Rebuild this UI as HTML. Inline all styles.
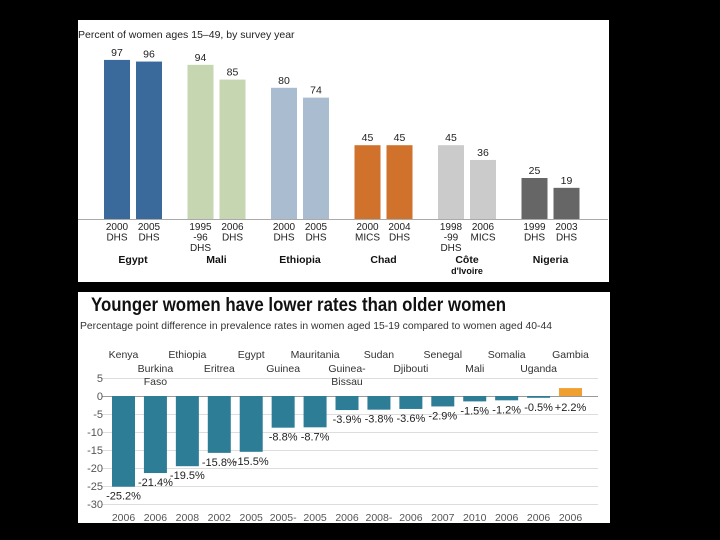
<!DOCTYPE html>
<html><head><meta charset="utf-8"><style>
html,body{margin:0;padding:0;background:#000;width:720px;height:540px;overflow:hidden}
svg{display:block;font-family:"Liberation Sans",sans-serif}
</style></head><body>
<svg id="svg" width="720" height="540">
<rect x="0" y="0" width="720" height="540" fill="#000"/>
<rect x="78" y="20" width="531" height="262" fill="#fff"/>
<rect x="78" y="292" width="532" height="231" fill="#fff"/>
<text x="78" y="38" font-size="10.5" fill="#222">Percent of women ages 15–49, by survey year</text>
<line x1="78" y1="219.5" x2="608" y2="219.5" stroke="#aaa" stroke-width="1"/>
<g id="top"></g>
<text x="91" y="311" font-size="19.5" font-weight="bold" fill="#111" textLength="415" lengthAdjust="spacingAndGlyphs">Younger women have lower rates than older women</text>
<text x="80" y="329" font-size="10.5" fill="#333" textLength="472" lengthAdjust="spacingAndGlyphs">Percentage point difference in prevalence rates in women aged 15-19 compared to women aged 40-44</text>
<g id="bot"></g>
</svg>
<script>
// top chart data
const topCountries = ["Egypt","Mali","Ethiopia","Chad","Côte","Nigeria"];
const topValues = [[97,96],[94,85],[80,74],[45,45],[45,36],[25,19]];
const topSurveys = [[["2000","DHS"],["2005","DHS"]],[["1995","-96","DHS"],["2006","DHS"]],[["2000","DHS"],["2005","DHS"]],[["2000","MICS"],["2004","DHS"]],[["1998","-99","DHS"],["2006","MICS"]],[["1999","DHS"],["2003","DHS"]]];
// bottom chart data
const botCountries = ["Kenya","Burkina Faso","Ethiopia","Eritrea","Egypt","Guinea","Mauritania","Guinea-Bissau","Sudan","Djibouti","Senegal","Mali","Somalia","Uganda","Gambia"];
const botValues = [-25.2,-21.4,-19.5,-15.8,-15.5,-8.8,-8.7,-3.9,-3.8,-3.6,-2.9,-1.5,-1.2,-0.5,2.2];
const botYears = ["2006","2006","2008","2002","2005","2005-","2005","2006","2008-","2006","2007","2010","2006","2006","2006"];
const botTicks = [5,0,-5,-10,-15,-20,-25,-30];

const NS="http://www.w3.org/2000/svg";
function mk(tag,attrs,parent,txt){const e=document.createElementNS(NS,tag);for(const k in attrs)e.setAttribute(k,attrs[k]);if(txt!==undefined)e.textContent=txt;parent.appendChild(e);return e;}

const topColors=["#3a6a9c","#c5d6b0","#a9bcd0","#d0722c","#cbcbcb","#666666"];
const topY=v=>219-v*1.64;
const topX=(g,i)=>104+g*83.5+i*32;
const tg=document.getElementById('top');
topValues.forEach((pair,g)=>{
  pair.forEach((v,i)=>{
    const x=topX(g,i);
    const r=mk('rect',{x:x,y:topY(v),width:26,height:219-topY(v),fill:topColors[g]},tg);
    
    
    const t=mk('text',{x:x+13,y:topY(v)-4,'font-size':'10.5','text-anchor':'middle',fill:'#222'},tg,String(v));
    
    
    topSurveys[g][i].forEach((s,k)=>{
      const l=mk('text',{x:x+13,y:230+k*10.5,'font-size':'10','text-anchor':'middle',fill:'#222'},tg,s);
      
      
    });
  });
  const c=mk('text',{x:topX(g,0)+29,y:263,'font-size':'10.5','font-weight':'bold','text-anchor':'middle',fill:'#111'},tg,topCountries[g]);
  
  
});
const dv=mk('text',{x:topX(4,0)+29,y:274,'font-size':'9','font-weight':'bold','text-anchor':'middle',fill:'#111'},tg,"d'Ivoire");



const bg=document.getElementById('bot');
const bY=v=>396-v*3.6;
const bX=i=>112+i*31.93;
botTicks.forEach(t=>{
  const gl=mk('line',{x1:102,x2:598,y1:bY(t)+0.5,y2:bY(t)+0.5,stroke:t===0?'#999':'#ddd','stroke-width':1},bg);
  
  
  const tl=mk('text',{x:103,y:bY(t)+4,'font-size':'11','text-anchor':'end',fill:'#555'},bg,String(t));
  
  
});
botValues.forEach((v,i)=>{
  const x=bX(i);
  const top=v>=0?bY(v):bY(0);
  const h=Math.abs(bY(v)-bY(0));
  const r=mk('rect',{x:x,y:top,width:23,height:h,fill:v>=0?'#f0a030':'#2e7d96'},bg);
  
  
  const lbl=(v>0?'+':'')+v.toFixed(1)+'%';
  const ly=v>=0?bY(0)+15:bY(v)+13;
  const t=mk('text',{x:x+11.5,y:ly,'font-size':'11','text-anchor':'middle',fill:'#222'},bg,lbl);
  
  
  const yr=mk('text',{x:x+11.5,y:521,'font-size':'10.5','text-anchor':'middle',fill:'#555'},bg,botYears[i]);
  
  
  const parts=botCountries[i]==="Burkina Faso"?["Burkina","Faso"]:botCountries[i]==="Guinea-Bissau"?["Guinea-","Bissau"]:[botCountries[i]];
  const row=i%2===0?358:372;
  parts.forEach((p,k)=>{
    const c=mk('text',{x:x+11.5,y:row+k*13,'font-size':'10.5','text-anchor':'middle',fill:'#333'},bg,p);
    
    
  });
});
</script>
</body></html>
